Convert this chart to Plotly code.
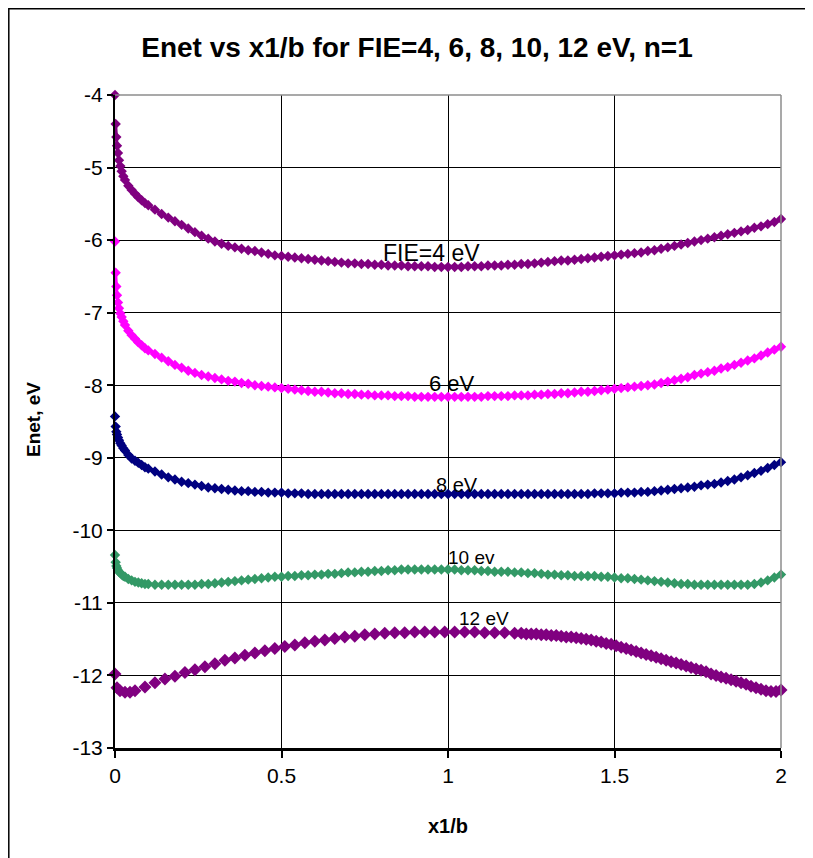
import numpy as np
import plotly.graph_objects as go

# ---------------- data ----------------
x_near = [0, 0.002, 0.004, 0.006, 0.009, 0.012, 0.016, 0.02, 0.025, 0.03,
          0.04, 0.05, 0.06, 0.07, 0.08, 0.09]
x_main = [float(v) for v in np.round(0.10 + 0.02 * np.arange(96), 3)]
x_common = x_near + x_main

fie4 = [-4.00, -4.40, -4.58, -4.70, -4.80, -4.90, -4.98, -5.05, -5.12, -5.17,
        -5.25, -5.31, -5.36, -5.41, -5.45, -5.49,
        -5.52, -5.58, -5.64, -5.69, -5.74, -5.79, -5.84, -5.89, -5.94, -5.98,
        -6.02, -6.05, -6.08, -6.10, -6.12, -6.14, -6.15, -6.17, -6.19, -6.21,
        -6.22, -6.23, -6.24, -6.25, -6.26, -6.27, -6.28, -6.29, -6.30, -6.31,
        -6.32, -6.32, -6.33, -6.33, -6.34, -6.34, -6.35, -6.35, -6.35, -6.36,
        -6.36, -6.36, -6.36, -6.37, -6.37, -6.37, -6.37, -6.37, -6.36, -6.36,
        -6.36, -6.35, -6.35, -6.35, -6.34, -6.34, -6.33, -6.33, -6.32, -6.31,
        -6.30, -6.29, -6.28, -6.28, -6.27, -6.26, -6.25, -6.24, -6.23, -6.22,
        -6.21, -6.20, -6.19, -6.18, -6.17, -6.15, -6.14, -6.12, -6.10, -6.08,
        -6.06, -6.04, -6.02, -6.00, -5.98, -5.96, -5.94, -5.92, -5.90, -5.88,
        -5.86, -5.83, -5.81, -5.78, -5.75, -5.71]

fie6 = [-6.02, -6.45, -6.64, -6.76, -6.86, -6.94, -7.01, -7.06, -7.12, -7.17,
        -7.25, -7.31, -7.36, -7.41, -7.45, -7.49,
        -7.52, -7.57, -7.62, -7.67, -7.72, -7.76, -7.80, -7.83, -7.86, -7.88,
        -7.90, -7.92, -7.94, -7.95, -7.97, -7.98, -8.00, -8.01, -8.02, -8.03,
        -8.04, -8.05, -8.06, -8.07, -8.08, -8.09, -8.09, -8.10, -8.11, -8.11,
        -8.12, -8.12, -8.13, -8.13, -8.14, -8.14, -8.14, -8.15, -8.15, -8.15,
        -8.16, -8.16, -8.16, -8.16, -8.16, -8.16, -8.16, -8.16, -8.16, -8.16,
        -8.16, -8.15, -8.15, -8.15, -8.15, -8.14, -8.14, -8.14, -8.13, -8.13,
        -8.12, -8.12, -8.11, -8.11, -8.10, -8.09, -8.09, -8.08, -8.07, -8.06,
        -8.05, -8.04, -8.03, -8.02, -8.01, -8.00, -7.99, -7.97, -7.95, -7.93,
        -7.91, -7.89, -7.86, -7.84, -7.82, -7.80, -7.77, -7.75, -7.72, -7.69,
        -7.66, -7.63, -7.59, -7.55, -7.51, -7.47]

fie8 = [-8.43, -8.57, -8.64, -8.68, -8.72, -8.76, -8.80, -8.83, -8.87, -8.90,
        -8.96, -9.01, -9.04, -9.07, -9.10, -9.13,
        -9.15, -9.19, -9.23, -9.27, -9.30, -9.33, -9.35, -9.37, -9.39, -9.41,
        -9.42, -9.43, -9.44, -9.45, -9.46, -9.46, -9.47, -9.47, -9.48, -9.48,
        -9.48, -9.49, -9.49, -9.49, -9.50, -9.50, -9.50, -9.50, -9.50, -9.50,
        -9.50, -9.50, -9.50, -9.50, -9.50, -9.50, -9.50, -9.50, -9.50, -9.50,
        -9.50, -9.50, -9.50, -9.50, -9.50, -9.50, -9.50, -9.50, -9.50, -9.50,
        -9.50, -9.50, -9.50, -9.50, -9.50, -9.50, -9.50, -9.50, -9.50, -9.50,
        -9.50, -9.50, -9.50, -9.50, -9.50, -9.50, -9.50, -9.49, -9.49, -9.49,
        -9.49, -9.48, -9.48, -9.48, -9.47, -9.47, -9.46, -9.45, -9.44, -9.43,
        -9.42, -9.41, -9.40, -9.38, -9.37, -9.36, -9.34, -9.32, -9.30, -9.27,
        -9.24, -9.21, -9.18, -9.14, -9.10, -9.06]

fie10 = [-10.34, -10.44, -10.49, -10.52, -10.55, -10.57, -10.59, -10.61, -10.63, -10.64,
         -10.67, -10.69, -10.71, -10.72, -10.73, -10.74,
         -10.74, -10.75, -10.75, -10.75, -10.75, -10.75, -10.75, -10.75, -10.74, -10.74,
         -10.73, -10.72, -10.71, -10.70, -10.69, -10.68, -10.67, -10.66, -10.65, -10.64,
         -10.64, -10.63, -10.63, -10.62, -10.62, -10.61, -10.61, -10.60, -10.60, -10.59,
         -10.58, -10.58, -10.57, -10.57, -10.56, -10.56, -10.55, -10.55, -10.54, -10.54,
         -10.54, -10.54, -10.54, -10.54, -10.54, -10.54, -10.54, -10.55, -10.55, -10.55,
         -10.56, -10.56, -10.57, -10.57, -10.57, -10.58, -10.58, -10.59, -10.59, -10.60,
         -10.61, -10.61, -10.62, -10.62, -10.63, -10.63, -10.63, -10.63, -10.64, -10.64,
         -10.65, -10.66, -10.66, -10.67, -10.68, -10.69, -10.70, -10.71, -10.72, -10.73,
         -10.74, -10.74, -10.75, -10.75, -10.75, -10.75, -10.75, -10.75, -10.75, -10.75,
         -10.75, -10.74, -10.72, -10.69, -10.65, -10.61]

x12 = ([0, 0.006, 0.015, 0.03, 0.045]
       + [float(v) for v in np.round(0.06 + 0.03 * np.arange(39), 3)]
       + [float(v) for v in np.round(1.22 + 0.015 * np.arange(53), 3)])
fie12 = [-11.98, -12.17, -12.21, -12.23, -12.23,
         -12.21, -12.16, -12.10, -12.05, -12.01, -11.96, -11.92, -11.88, -11.84, -11.79,
         -11.76, -11.72, -11.69, -11.66, -11.63, -11.60, -11.58, -11.55, -11.53, -11.51,
         -11.49, -11.47, -11.46, -11.44, -11.43, -11.42, -11.41, -11.41, -11.40, -11.40,
         -11.40, -11.40, -11.40, -11.40, -11.40, -11.41, -11.41, -11.41, -11.42,
         -11.42, -11.43, -11.43, -11.43, -11.44, -11.44, -11.45, -11.45, -11.46, -11.47,
         -11.47, -11.48, -11.49, -11.50, -11.51, -11.53, -11.54, -11.56, -11.57, -11.59,
         -11.61, -11.63, -11.65, -11.67, -11.69, -11.71, -11.73, -11.75, -11.77, -11.79,
         -11.81, -11.83, -11.85, -11.87, -11.89, -11.91, -11.93, -11.95, -11.98, -12.00,
         -12.02, -12.04, -12.06, -12.08, -12.10, -12.12, -12.15, -12.17, -12.19, -12.21,
         -12.22, -12.22, -12.20]

series_names = ["FIE=4 eV", "6 eV", "8 eV", "10 ev", "12 eV"]
series_x = [x_common, x_common, x_common, x_common, x12]
series_y = [fie4, fie6, fie8, fie10, fie12]
series_colors = ["#800080", "#FF00FF", "#000080", "#339966", "#800080"]
marker_sizes = [8, 8, 8, 8, 10]
series_joined = [True, True, True, True, False]

# label anchor points (data coords) and font sizes
label_x = [0.949, 1.012, 1.027, 1.072, 1.108]
label_y = [-6.18, -7.98, -9.375, -10.38, -11.22]
label_size = [23, 22, 20, 19, 19]

x_ticks = [0, 0.5, 1, 1.5, 2]
x_ticktext = ["0", "0.5", "1", "1.5", "2"]
y_ticks = [-13, -12, -11, -10, -9, -8, -7, -6, -5, -4]
y_ticktext = ["-13", "-12", "-11", "-10", "-9", "-8", "-7", "-6", "-5", "-4"]

FONT = "Arial, 'Liberation Sans', sans-serif"

fig = go.Figure()
for name, xs, ys, col, ms, joined in zip(series_names, series_x, series_y,
                                         series_colors, marker_sizes, series_joined):
    n = min(len(xs), len(ys))
    if joined:
        # thin band joining the dense points (the lone first point stays apart)
        fig.add_trace(go.Scatter(
            x=xs[1:n], y=ys[1:n], mode="lines", line=dict(color=col, width=3),
            hoverinfo="skip", cliponaxis=False, showlegend=False,
        ))
    fig.add_trace(go.Scatter(
        x=xs[:n], y=ys[:n], mode="markers", name=name,
        marker=dict(symbol="diamond", size=ms, color=col, line=dict(width=0)),
        cliponaxis=False, showlegend=False,
    ))

for name, lx, ly, ls in zip(series_names, label_x, label_y, label_size):
    fig.add_annotation(x=lx, y=ly, xref="x", yref="y", text=name, showarrow=False,
                       font=dict(family=FONT, size=ls, color="black"),
                       xanchor="center", yanchor="middle")

# page offset of the plot div (browser body margin)
OFF = 8
W, H = 813, 858
L, R, T, B = 115 - OFF, 32 + OFF, 95 - OFF, 110 + OFF
pw, ph = W - L - R, H - T - B


def px_x(p):
    return (p - OFF - L) / pw


def px_y(p):
    return (H - B - (p - OFF)) / ph


# axis titles
fig.add_annotation(x=px_x(448), y=px_y(826), xref="paper", yref="paper",
                   text="<b>x1/b</b>", showarrow=False,
                   font=dict(family=FONT, size=20, color="black"),
                   xanchor="center", yanchor="middle")
fig.add_annotation(x=px_x(33), y=px_y(420), xref="paper", yref="paper",
                   text="<b>Enet, eV</b>", showarrow=False, textangle=-90,
                   font=dict(family=FONT, size=19, color="black"),
                   xanchor="center", yanchor="middle")

shapes = [
    # outer chart frame
    dict(type="rect", xref="paper", yref="paper",
         x0=px_x(OFF + 0.8), x1=px_x(840), y0=px_y(890), y1=px_y(OFF + 0.8),
         line=dict(color="black", width=1.5), fillcolor="rgba(0,0,0,0)", layer="below"),
    # grey plot-area border (top and right)
    dict(type="line", xref="paper", yref="paper", x0=0, x1=1, y0=1, y1=1,
         line=dict(color="#8c8c8c", width=1.5), layer="above"),
    dict(type="line", xref="paper", yref="paper", x0=1, x1=1, y0=0, y1=1,
         line=dict(color="#8c8c8c", width=1.5), layer="above"),
]

fig.update_layout(
    width=W, height=H,
    margin=dict(l=L, r=R, t=T, b=B),
    paper_bgcolor="white", plot_bgcolor="white",
    title=dict(text="<b>Enet vs x1/b for FIE=4, 6, 8, 10, 12 eV, n=1</b>",
               x=(417 - OFF) / W, y=1 - (47 - OFF) / H, xref="container", yref="container",
               xanchor="center", yanchor="middle",
               font=dict(family=FONT, size=28, color="black")),
    shapes=shapes,
    xaxis=dict(range=[0, 2], tickvals=x_ticks, ticktext=x_ticktext,
               showgrid=True, gridcolor="black", gridwidth=1,
               showline=True, linecolor="black", linewidth=2.5,
               ticks="outside", ticklen=7, tickwidth=2, tickcolor="black",
               zeroline=False, tickfont=dict(family=FONT, size=21, color="black")),
    yaxis=dict(range=[-13, -4], tickvals=y_ticks, ticktext=y_ticktext,
               showgrid=True, gridcolor="black", gridwidth=1,
               showline=True, linecolor="black", linewidth=2,
               ticks="outside", ticklen=6, tickwidth=1.5, tickcolor="black",
               zeroline=False, tickfont=dict(family=FONT, size=21, color="black")),
)

fig.write_html("out.html")
